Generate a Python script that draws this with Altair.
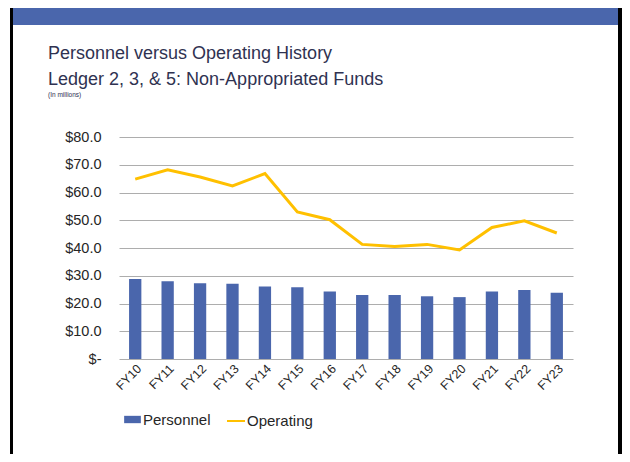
import altair as alt
import pandas as pd

years = ["FY10", "FY11", "FY12", "FY13", "FY14", "FY15", "FY16",
         "FY17", "FY18", "FY19", "FY20", "FY21", "FY22", "FY23"]
personnel = [28.8, 28.0, 27.3, 27.1, 26.1, 25.9, 24.3, 23.1, 23.1, 22.6, 22.3, 24.3, 24.9, 23.9]
operating = [64.8, 68.2, 65.6, 62.4, 66.8, 53.0, 50.2, 41.3, 40.5, 41.3, 39.3, 47.4, 49.8, 45.4]
y_ticks = [0, 10, 20, 30, 40, 50, 60, 70, 80]
title_lines = ["Personnel versus Operating History", "Ledger 2, 3, & 5: Non-Appropriated Funds"]
subtitle = "(In millions)"

BLUE = "#4A66AC"
GOLD = "#FFC000"
NAVY = "#2F3251"
TXT = "#262626"
GRID = "#ADADAD"
FONT = "Liberation Sans"

df = pd.DataFrame({
    "year": years * 2,
    "value": personnel + operating,
    "series": ["Personnel"] * len(years) + ["Operating"] * len(years),
})

W, H = 454, 222

x_enc = alt.X("year:N", sort=years, title=None,
              scale=alt.Scale(paddingInner=0.62, paddingOuter=0.31),
              axis=alt.Axis(labelAngle=-45, labelFontSize=12.5, labelFont=FONT, labelColor=TXT,
                            ticks=False, domain=False, labelPadding=3, grid=False))
y_enc = alt.Y("value:Q", title=None, scale=alt.Scale(domain=[0, 80], nice=False),
              axis=alt.Axis(values=y_ticks, labelFontSize=14.5, labelFont=FONT, labelColor=TXT,
                            ticks=False, domain=False, labelPadding=18,
                            gridColor=GRID, gridWidth=1.2,
                            labelExpr="datum.value == 0 ? '$-\u00a0\u00a0' : '$' + format(datum.value, '.1f')"))

base = alt.Chart(df)

bars = base.transform_filter(alt.datum.series == "Personnel").mark_bar(size=12.3).encode(
    x=x_enc, y=y_enc,
    fill=alt.Fill("series:N", scale=alt.Scale(domain=["Personnel"], range=[BLUE]),
                  legend=alt.Legend(title=None, orient="none", legendX=5, legendY=274,
                                    symbolType="M-1,-0.44L1,-0.44L1,0.44L-1,0.44Z",
                                    symbolSize=279, symbolStrokeWidth=0,
                                    labelFontSize=15, labelFont=FONT, labelColor=TXT,
                                    labelOffset=2, padding=0)),
)

line = base.transform_filter(alt.datum.series == "Operating").mark_line(strokeWidth=3).encode(
    x=x_enc, y=y_enc,
    stroke=alt.Stroke("series:N", scale=alt.Scale(domain=["Operating"], range=[GOLD]),
                      legend=alt.Legend(title=None, orient="none", legendX=107, legendY=274,
                                        symbolType="stroke", symbolSize=324, symbolStrokeWidth=2,
                                        labelFontSize=15, labelFont=FONT, labelColor=TXT,
                                        labelOffset=1, padding=0)),
)

one = alt.Data(values=[{}])
banner = alt.Chart(one).mark_rect(color=BLUE).encode(
    x=alt.value(-109), x2=alt.value(503), y=alt.value(-134), y2=alt.value(-112))
left_b = alt.Chart(one).mark_rect(color="#000000").encode(
    x=alt.value(-109), x2=alt.value(-106), y=alt.value(-140), y2=alt.value(330))
right_b = alt.Chart(one).mark_rect(color="#000000").encode(
    x=alt.value(499), x2=alt.value(504), y=alt.value(-140), y2=alt.value(330))

t1 = alt.Chart(one).mark_text(align="left", baseline="alphabetic", font=FONT, fontSize=18,
                              color=NAVY, text=title_lines[0]).encode(
    x=alt.value(-71), y=alt.value(-77.7))
t2 = alt.Chart(one).mark_text(align="left", baseline="alphabetic", font=FONT, fontSize=18,
                              color=NAVY, text=title_lines[1]).encode(
    x=alt.value(-71), y=alt.value(-52))
t3 = alt.Chart(one).mark_text(align="left", baseline="alphabetic", font=FONT, fontSize=6.5,
                              color=NAVY, text=subtitle).encode(
    x=alt.value(-71), y=alt.value(-40.5))

chart = alt.layer(banner, left_b, right_b, bars, line, t1, t2, t3).properties(
    width=W, height=H,
    autosize=alt.AutoSizeParams(type="none"),
    padding={"left": 111, "top": 129, "right": 49, "bottom": 95},
    background="white",
).configure_view(stroke=None)

chart.save("out.html", embed_options={"renderer": "svg", "actions": False})
